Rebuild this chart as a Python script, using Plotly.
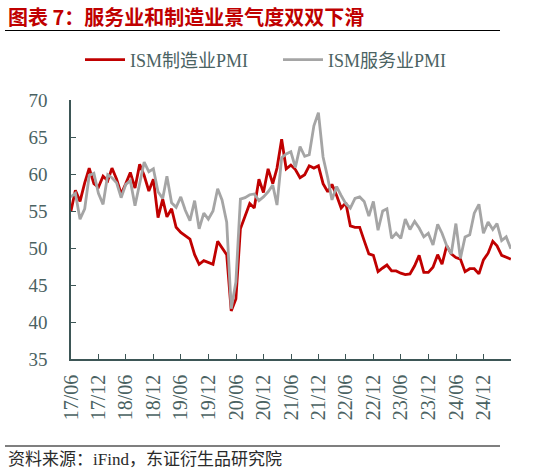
import pandas as pd
import plotly.graph_objects as go

# ISM PMI, monthly 2017-05 .. 2025-05
mfg_pmi = [
    54.9, 57.8, 56.3, 58.8, 60.8, 58.7, 58.2, 59.7,
    59.1, 60.8, 59.3, 57.3, 58.7, 60.2, 58.1, 61.3, 59.8, 57.7, 59.3, 54.1,
    56.6, 54.2, 55.3, 52.8, 52.1, 51.7, 51.2, 49.1, 47.8, 48.3, 48.1, 47.8,
    50.9, 50.1, 49.1, 41.5, 43.1, 52.6, 54.2, 56.0, 55.4, 59.3, 57.5, 60.7,
    58.7, 60.8, 64.7, 60.7, 61.2, 60.6, 59.5, 59.9, 61.1, 60.8, 61.1, 58.7,
    57.6, 58.6, 57.1, 55.4, 56.1, 53.0, 52.8, 52.8, 51.0, 49.2, 49.0, 46.8,
    47.3, 47.7, 46.9, 46.9, 46.6, 46.4, 46.5, 47.6, 49.0, 46.7, 46.7, 47.4,
    49.1, 47.8, 50.3, 49.2, 48.7, 48.5, 46.8, 47.2, 47.2, 46.5, 48.4, 49.3,
    50.9, 50.3, 49.0, 48.7, 48.5,
]
srv_pmi = [
    56.9, 57.4, 53.9, 55.3, 59.8, 60.1, 57.4, 55.9,
    59.9, 59.5, 58.8, 56.8, 58.6, 59.1, 55.7, 58.5, 61.6, 60.3, 60.7, 57.6,
    56.7, 59.7, 56.1, 55.5, 56.9, 55.1, 53.7, 56.4, 52.6, 54.7, 53.9, 55.0,
    58.0, 56.5, 53.5, 41.8, 45.4, 56.6, 56.8, 57.2, 57.3, 56.4, 56.9, 57.6,
    58.5, 55.8, 62.2, 62.7, 63.0, 60.9, 63.7, 62.4, 62.6, 66.5, 68.3, 62.3,
    59.5, 56.5, 58.3, 57.1, 56.0, 55.4, 56.7, 56.9, 56.3, 54.3, 56.3, 52.4,
    55.0, 55.3, 51.3, 52.0, 51.3, 53.9, 52.5, 53.6, 52.7, 51.5, 52.0, 50.4,
    53.2, 52.0, 50.3, 49.2, 53.3, 48.6, 51.5, 51.8, 54.7, 55.9, 52.0, 53.5,
    52.5, 53.3, 51.0, 51.5, 49.9,
]
months = pd.date_range("2017-05-31", periods=len(mfg_pmi), freq="ME")

tick_dates = pd.date_range("2017-06-01", "2025-06-01", freq="6MS")
tick_labels = ["17/06", "17/12", "18/06", "18/12", "19/06", "19/12", "20/06", "20/12",
               "21/06", "21/12", "22/06", "22/12", "23/06", "23/12", "24/06", "24/12", ""]

W, H = 539, 474
ML, MR, MT, MB = 71, 28, 100, 115
PW, PH = W - ML - MR, H - MT - MB


def px_x(px):
    return (px - ML) / PW


def px_y(py):
    return (H - MB - py) / PH


SERIF = "Liberation Serif, Noto Sans CJK SC, serif"
AXIS = "#3d5656"
TXT = "#4a6262"

fig = go.Figure()
fig.add_trace(go.Scatter(x=months, y=mfg_pmi, name="ISM制造业PMI", mode="lines",
                         line=dict(color="#c00000", width=2.8)))
fig.add_trace(go.Scatter(x=months, y=srv_pmi, name="ISM服务业PMI", mode="lines",
                         line=dict(color="#a5a5a5", width=2.8)))

fig.update_layout(
    width=W, height=H,
    margin=dict(l=ML, r=MR, t=MT, b=MB),
    paper_bgcolor="white", plot_bgcolor="white",
    font=dict(family=SERIF, size=15, color=TXT),
    legend=dict(orientation="h", x=px_x(80), y=px_y(60), xanchor="left", yanchor="middle",
                font=dict(family=SERIF, size=18, color=TXT), itemwidth=40,
                entrywidth=143, bgcolor="rgba(0,0,0,0)"),
    xaxis=dict(type="date", range=[tick_dates[0], tick_dates[-1]],
               tickmode="array", tickvals=tick_dates, ticktext=tick_labels,
               tickangle=-90, ticks="inside", ticklen=5, tickcolor=AXIS,
               showline=True, linecolor=AXIS, linewidth=1.5, showgrid=False,
               zeroline=False, ticklabelstandoff=6,
               tickfont=dict(family=SERIF, size=20, color=TXT)),
    yaxis=dict(range=[35, 70], dtick=5, ticks="inside", ticklen=5, tickcolor=AXIS,
               showline=True, linecolor=AXIS, linewidth=1.5, showgrid=False,
               zeroline=False, ticklabelstandoff=18,
               tickfont=dict(family=SERIF, size=19, color=TXT)),
)

fig.add_annotation(text="<b>图表 7：服务业和制造业景气度双双下滑</b>", xref="paper", yref="paper",
                   x=px_x(6), y=px_y(16), xanchor="left", yanchor="middle", showarrow=False,
                   font=dict(family="Noto Sans CJK SC", size=20, color="#c00000"))
fig.add_annotation(text="资料来源：iFind，东证衍生品研究院", xref="paper", yref="paper",
                   x=px_x(6), y=px_y(459), xanchor="left", yanchor="middle", showarrow=False,
                   font=dict(family=SERIF, size=17, color="#2a2a2a"))
# rules under the title and above the source line
fig.add_shape(type="line", xref="paper", yref="paper", x0=px_x(5), x1=px_x(500),
              y0=px_y(30.5), y1=px_y(30.5), line=dict(color="black", width=1.2))
fig.add_shape(type="line", xref="paper", yref="paper", x0=px_x(5), x1=px_x(500),
              y0=px_y(446), y1=px_y(446), line=dict(color="black", width=1.2))

fig.write_html("out.html", config={"displayModeBar": False},
               post_script="document.body.style.margin='0';")
